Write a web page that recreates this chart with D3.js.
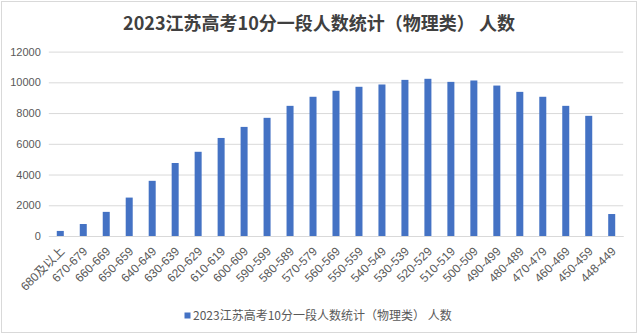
<!DOCTYPE html>
<html><head><meta charset="utf-8">
<script src="https://cdn.jsdelivr.net/npm/d3@7/dist/d3.min.js"></script>
<style>
html,body{margin:0;padding:0;background:#fff;}
svg{display:block;font-family:"Microsoft YaHei","Noto Sans CJK SC",sans-serif;}
</style></head><body>
<svg id="chart" width="638" height="335"></svg>
<script>
const categories = ["680及以上","670-679","660-669","650-659","640-649","630-639","620-629","610-619","600-609","590-599","580-589","570-579","560-569","550-559","540-549","530-539","520-529","510-519","500-509","490-499","480-489","470-479","460-469","450-459","448-449"];
const values = [330,780,1570,2500,3590,4750,5480,6380,7100,7690,8470,9060,9450,9710,9860,10160,10230,10030,10120,9790,9380,9060,8470,7820,1430];
const yTicks = [0,2000,4000,6000,8000,10000,12000];
const titleText = "2023江苏高考10分一段人数统计（物理类） 人数";
const seriesName = "2023江苏高考10分一段人数统计（物理类） 人数";

const svg = d3.select("#chart");
const plot = {left: 48.8, right: 623.2, top: 51.6, bottom: 236};
const latin = "'Liberation Sans','Noto Sans CJK SC',sans-serif";

// border
svg.append("rect").attr("x",1.5).attr("y",1.5).attr("width",635).attr("height",331)
  .attr("fill","#fff").attr("stroke","#d9d9d9").attr("stroke-width",1);

// title
svg.append("text").attr("x",319).attr("y",29.5).attr("text-anchor","middle")
  .attr("font-size",18).attr("font-weight","bold").attr("fill","#404040").text(titleText);

const x = d3.scaleBand().domain(categories).range([plot.left, plot.right]).padding(0);
const y = d3.scaleLinear().domain([0,12000]).range([plot.bottom, plot.top]);

// gridlines + y labels
const yAxis = d3.axisLeft(y).tickValues(yTicks).tickFormat(d3.format("d"))
  .tickSize(-(plot.right - plot.left)).tickPadding(8);
const gy = svg.append("g").attr("transform",`translate(${plot.left},0)`).call(yAxis);
gy.select(".domain").remove();
gy.selectAll(".tick line").attr("stroke","#d9d9d9").attr("stroke-width",1);
gy.selectAll(".tick text").attr("fill","#595959").attr("font-size",11).attr("font-family",latin);

// x axis baseline
const xAxis = d3.axisBottom(x).tickSize(0).tickFormat("");
const gx = svg.append("g").attr("transform",`translate(0,${plot.bottom})`).call(xAxis);
gx.select(".domain").attr("stroke","#d9d9d9");

// bars
const bw = x.bandwidth() * 0.305;
svg.append("g").selectAll("rect").data(values).join("rect")
  .attr("x",(d,i)=> x(categories[i]) + x.bandwidth()/2 - bw/2)
  .attr("y",d=>y(d)).attr("width",bw).attr("height",d=>y(0)-y(d))
  .attr("fill","#4472C4");

// x labels rotated
svg.append("g").selectAll("text").data(categories).join("text")
  .attr("transform",d=>`translate(${x(d)+x.bandwidth()/2+2},${plot.bottom+13}) rotate(-45)`)
  .attr("text-anchor","end").attr("dy","0.35em")
  .attr("font-size",12).attr("fill","#595959").attr("font-family",latin)
  .text(d=>d);

// legend
const lg = svg.append("g");
lg.append("rect").attr("x",184.5).attr("y",312.5).attr("width",6).attr("height",6).attr("fill","#4472C4");
lg.append("text").attr("x",193).attr("y",320).attr("font-size",12).attr("fill","#595959").text(seriesName);
</script>
</body></html>
